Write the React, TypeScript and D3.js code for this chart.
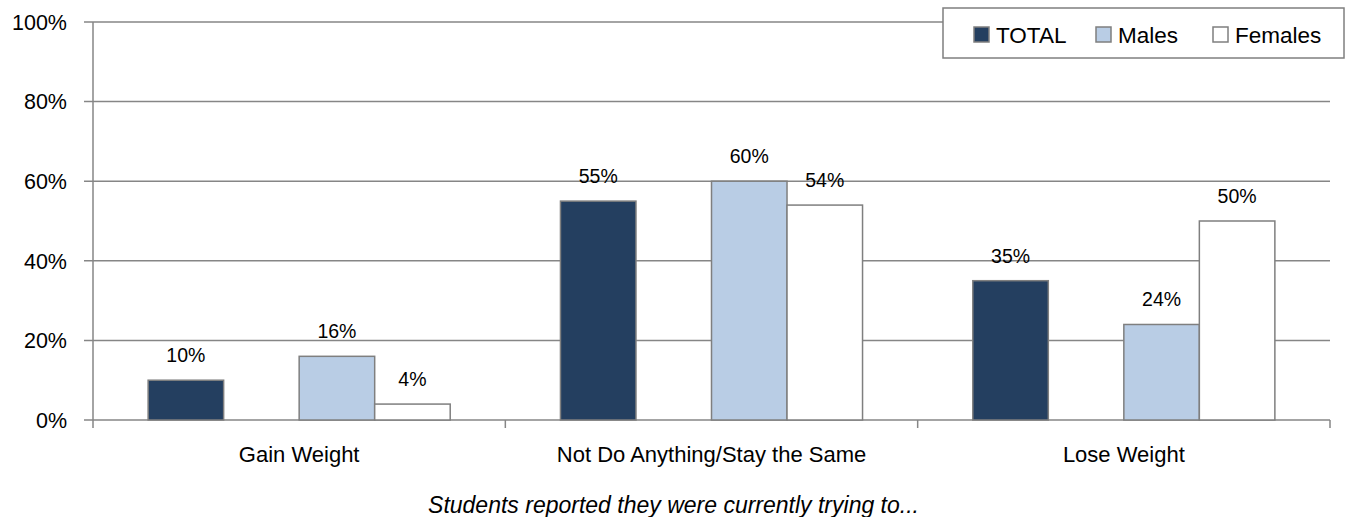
import React from "react";
import * as d3 from "d3";

const categories = ["Gain Weight", "Not Do Anything/Stay the Same", "Lose Weight"];
const seriesNames = ["TOTAL", "Males", "Females"];
const totalValues = [0.10, 0.55, 0.35];
const maleValues = [0.16, 0.60, 0.24];
const femaleValues = [0.04, 0.54, 0.50];
const yTicks = [0, 0.2, 0.4, 0.6, 0.8, 1.0];
const seriesColors = ["#243F60", "#B9CDE5", "#FFFFFF"];
// slot order within each category (an empty slot sits between TOTAL and Males)
const slots = ["TOTAL", "_gap", "Males", "Females"];
const axisTitle = "Students reported they were currently trying to...";

const W = 1346;
const H = 517;
const left = 93;
const right = 1330;
const top = 22;
const bottom = 420;
const FONT = "Liberation Sans, Arial, sans-serif";
const GRID = "#868686";

export default function App() {
  const y = d3.scaleLinear().domain([0, 1]).range([bottom, top]);
  const x = d3.scaleBand<string>().domain(categories).range([left, right]).paddingInner(0).paddingOuter(0);
  const inner = d3.scaleBand<string>().domain(slots).range([0, x.bandwidth()]).paddingInner(0).paddingOuter(0.73);
  const seriesValues = [totalValues, maleValues, femaleValues];

  const bars: any[] = [];
  categories.forEach((c, ci) => {
    seriesNames.forEach((s, si) => {
      const v = seriesValues[si][ci];
      const bx = (x(c) as number) + (inner(s) as number);
      bars.push({ key: c + s, x: bx, w: inner.bandwidth(), y: y(v), h: y(0) - y(v), v, color: seriesColors[si] });
    });
  });

  const legendItems = [
    { name: seriesNames[0], sx: 974, tx: 996 },
    { name: seriesNames[1], sx: 1096, tx: 1118 },
    { name: seriesNames[2], sx: 1213, tx: 1235 },
  ];

  return (
    <svg width={W} height={H} style={{ position: "absolute", left: 0, top: 0, background: "#fff" }} fontFamily={FONT}>
      {/* gridlines and y ticks */}
      {yTicks.map((t) => (
        <g key={t}>
          <line x1={left - 9} x2={right} y1={y(t)} y2={y(t)} stroke={GRID} strokeWidth={1.5} />
          <text x={67} y={y(t)} dy="0.36em" textAnchor="end" fontSize={21.5} fill="#000">
            {d3.format(".0%")(t)}
          </text>
        </g>
      ))}
      {/* y axis */}
      <line x1={left} x2={left} y1={top} y2={bottom + 8} stroke={GRID} strokeWidth={1.5} />
      {/* category ticks */}
      {categories.map((c) => (
        <line key={c} x1={(x(c) as number) + x.bandwidth()} x2={(x(c) as number) + x.bandwidth()} y1={bottom} y2={bottom + 8} stroke={GRID} strokeWidth={1.5} />
      ))}
      {/* bars */}
      {bars.map((b) => (
        <g key={b.key}>
          <rect x={b.x} y={b.y} width={b.w} height={b.h} fill={b.color} stroke="#7F7F7F" strokeWidth={1.5} />
          <text x={b.x + b.w / 2} y={b.y - 18} textAnchor="middle" fontSize={19.5} fill="#000">
            {d3.format(".0%")(b.v)}
          </text>
        </g>
      ))}
      {/* category labels */}
      {categories.map((c) => (
        <text key={c} x={(x(c) as number) + x.bandwidth() / 2} y={462} textAnchor="middle" fontSize={22} fill="#000">
          {c}
        </text>
      ))}
      <text x={(left + right) / 2 - 38} y={513} textAnchor="middle" fontSize={23} fontStyle="italic" fill="#000">
        {axisTitle}
      </text>
      {/* legend */}
      <rect x={943} y={8} width={401} height={50} fill="#fff" stroke="#7F7F7F" strokeWidth={1.5} />
      {legendItems.map((l, i) => (
        <g key={l.name}>
          <rect x={l.sx} y={27} width={15} height={15} fill={seriesColors[i]} stroke="#7F7F7F" strokeWidth={1.5} />
          <text x={l.tx} y={34.5} dy="0.36em" fontSize={22.5} fill="#000">{l.name}</text>
        </g>
      ))}
    </svg>
  );
}
